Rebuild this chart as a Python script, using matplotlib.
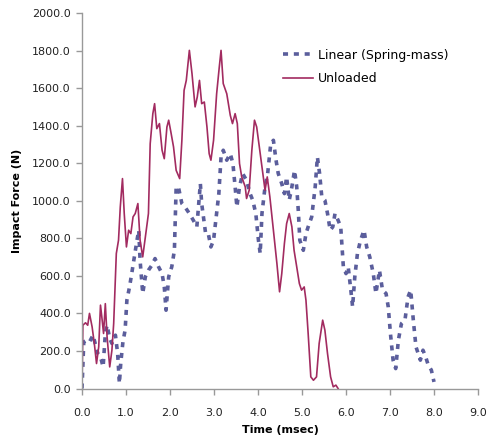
import matplotlib
matplotlib.use("Agg")
import matplotlib.pyplot as plt
from matplotlib.ticker import FormatStrFormatter

unloaded_t = [0.0, 0.02, 0.08, 0.13, 0.17, 0.23, 0.28, 0.33, 0.38, 0.42, 0.45, 0.49, 0.53, 0.57, 0.63,
              0.68, 0.72, 0.78, 0.83, 0.87, 0.92, 0.96, 1.01, 1.06, 1.11, 1.16, 1.21, 1.27, 1.32, 1.38,
              1.44, 1.51, 1.55, 1.61, 1.65, 1.70, 1.76, 1.82, 1.87, 1.93, 1.97, 2.02, 2.08, 2.14, 2.22,
              2.27, 2.32, 2.37, 2.44, 2.50, 2.57, 2.62, 2.67, 2.72, 2.78, 2.84, 2.89, 2.93, 2.99, 3.06,
              3.12, 3.16, 3.21, 3.29, 3.37, 3.42, 3.48, 3.53, 3.58, 3.63, 3.71, 3.74, 3.80, 3.86, 3.92,
              3.97, 4.03, 4.11, 4.16, 4.21, 4.27, 4.35, 4.43, 4.49, 4.54, 4.60, 4.65, 4.71, 4.77, 4.82,
              4.88, 4.94, 4.99, 5.05, 5.09, 5.14, 5.20, 5.26, 5.33, 5.39, 5.47, 5.52, 5.58, 5.65, 5.71,
              5.77, 5.82]
unloaded_f = [0, 337, 350, 337, 400, 328, 240, 133, 222, 444, 382, 293, 452, 275, 115,
              204, 346, 719, 790, 967, 1118, 932, 754, 843, 825, 914, 932, 985, 790, 701,
              807, 932, 1304, 1464, 1517, 1384, 1411, 1269, 1224, 1393, 1429, 1366, 1287, 1162, 1118,
              1322, 1588, 1641, 1801, 1677, 1500, 1553, 1641, 1517, 1526, 1393, 1251, 1216, 1322, 1570,
              1712, 1801, 1624, 1570, 1455, 1411, 1464, 1411, 1198, 1127, 1074, 1012, 1056, 1269, 1429,
              1393, 1287, 1145, 1056, 1127, 1020, 843, 665, 515, 612, 772, 878, 932, 861, 736,
              648, 559, 524, 541, 470, 293, 62, 44, 62, 240, 364, 311, 186, 62, 9,
              18, 0]

linear_t = [0.0, 0.04, 0.10, 0.17, 0.25, 0.30, 0.36, 0.42, 0.48, 0.53, 0.57, 0.63, 0.68, 0.76, 0.81,
            0.85, 0.88, 0.93, 0.98, 1.02, 1.08, 1.13, 1.19, 1.25, 1.29, 1.32, 1.38, 1.44, 1.51, 1.59,
            1.66, 1.74, 1.82, 1.87, 1.91, 1.97, 2.04, 2.10, 2.14, 2.19, 2.27, 2.34, 2.44, 2.53, 2.61,
            2.69, 2.72, 2.76, 2.81, 2.87, 2.93, 2.99, 3.05, 3.11, 3.16, 3.21, 3.29, 3.37, 3.43, 3.48,
            3.52, 3.58, 3.65, 3.74, 3.82, 3.88, 3.95, 4.01, 4.05, 4.09, 4.16, 4.22, 4.29, 4.35, 4.41,
            4.46, 4.54, 4.60, 4.65, 4.71, 4.77, 4.83, 4.88, 4.92, 4.95, 5.03, 5.09, 5.14, 5.22, 5.30,
            5.35, 5.40, 5.45, 5.52, 5.58, 5.64, 5.70, 5.75, 5.82, 5.88, 5.94, 6.00, 6.05, 6.11, 6.15,
            6.20, 6.26, 6.33, 6.41, 6.47, 6.54, 6.62, 6.68, 6.76, 6.83, 6.91, 6.96, 7.01, 7.07, 7.13,
            7.19, 7.26, 7.34, 7.41, 7.47, 7.53, 7.59, 7.64, 7.69, 7.75, 7.81, 7.87, 7.94, 8.00]
linear_f = [0, 248, 257, 248, 284, 240, 186, 169, 115, 293, 337, 266, 240, 284, 186,
            27, 133, 248, 311, 470, 541, 612, 701, 790, 843, 683, 506, 595, 630, 657,
            692, 648, 612, 541, 417, 595, 648, 736, 1074, 1074, 985, 967, 932, 896, 861,
            1091, 985, 914, 825, 825, 754, 790, 914, 1038, 1233, 1269, 1216, 1251, 1198, 1074,
            967, 1074, 1145, 1109, 1038, 1003, 932, 790, 719, 932, 1074, 1145, 1304, 1322, 1216,
            1145, 1091, 1038, 1127, 1003, 1074, 1162, 1074, 932, 790, 736, 825, 861, 914, 1074,
            1233, 1145, 1020, 1003, 932, 843, 861, 932, 896, 861, 648, 612, 648, 524, 435,
            595, 719, 790, 843, 754, 701, 612, 506, 630, 524, 506, 435, 293, 151, 106,
            257, 346, 364, 488, 524, 364, 222, 186, 151, 204, 169, 124, 98, 35]

x_ticks = [0, 1, 2, 3, 4, 5, 6, 7, 8, 9]
y_ticks = [0, 200, 400, 600, 800, 1000, 1200, 1400, 1600, 1800, 2000]

fig = plt.figure(figsize=(4.88, 4.44), dpi=100)
ax = fig.add_axes([82 / 488, 1 - 388.5 / 444, 396 / 488, 375.5 / 444])

ax.plot(linear_t, linear_f, color='#5B5E9C', lw=2.6, linestyle=(0, (1.4, 1.6)),
        label='Linear (Spring-mass)')
ax.plot(unloaded_t, unloaded_f, color='#A22B60', lw=1.2, label='Unloaded')

ax.set_xlim(0, 9)
ax.set_ylim(0, 2000)
ax.set_xticks(x_ticks)
ax.set_yticks(y_ticks)
ax.xaxis.set_major_formatter(FormatStrFormatter('%.1f'))
ax.yaxis.set_major_formatter(FormatStrFormatter('%.1f'))
for s in ['top', 'right']:
    ax.spines[s].set_visible(False)
for s in ['left', 'bottom']:
    ax.spines[s].set_color('#999999')
    ax.spines[s].set_linewidth(1.0)
ax.tick_params(axis='both', colors='#999999', labelcolor='#222222', labelsize=8, length=4, width=1)
ax.tick_params(axis='x', pad=10)
ax.tick_params(axis='y', pad=4)
ax.set_xlabel('Time (msec)', fontsize=8, fontweight='bold', labelpad=5)
ax.set_ylabel('Impact Force (N)', fontsize=8, fontweight='bold', labelpad=7)

leg = ax.legend(loc='upper left', bbox_to_anchor=(0.48, 0.935), frameon=False, fontsize=9,
                handlelength=2.4, handletextpad=0.35, labelspacing=0.85)

fig.savefig('out.png', dpi=100)
